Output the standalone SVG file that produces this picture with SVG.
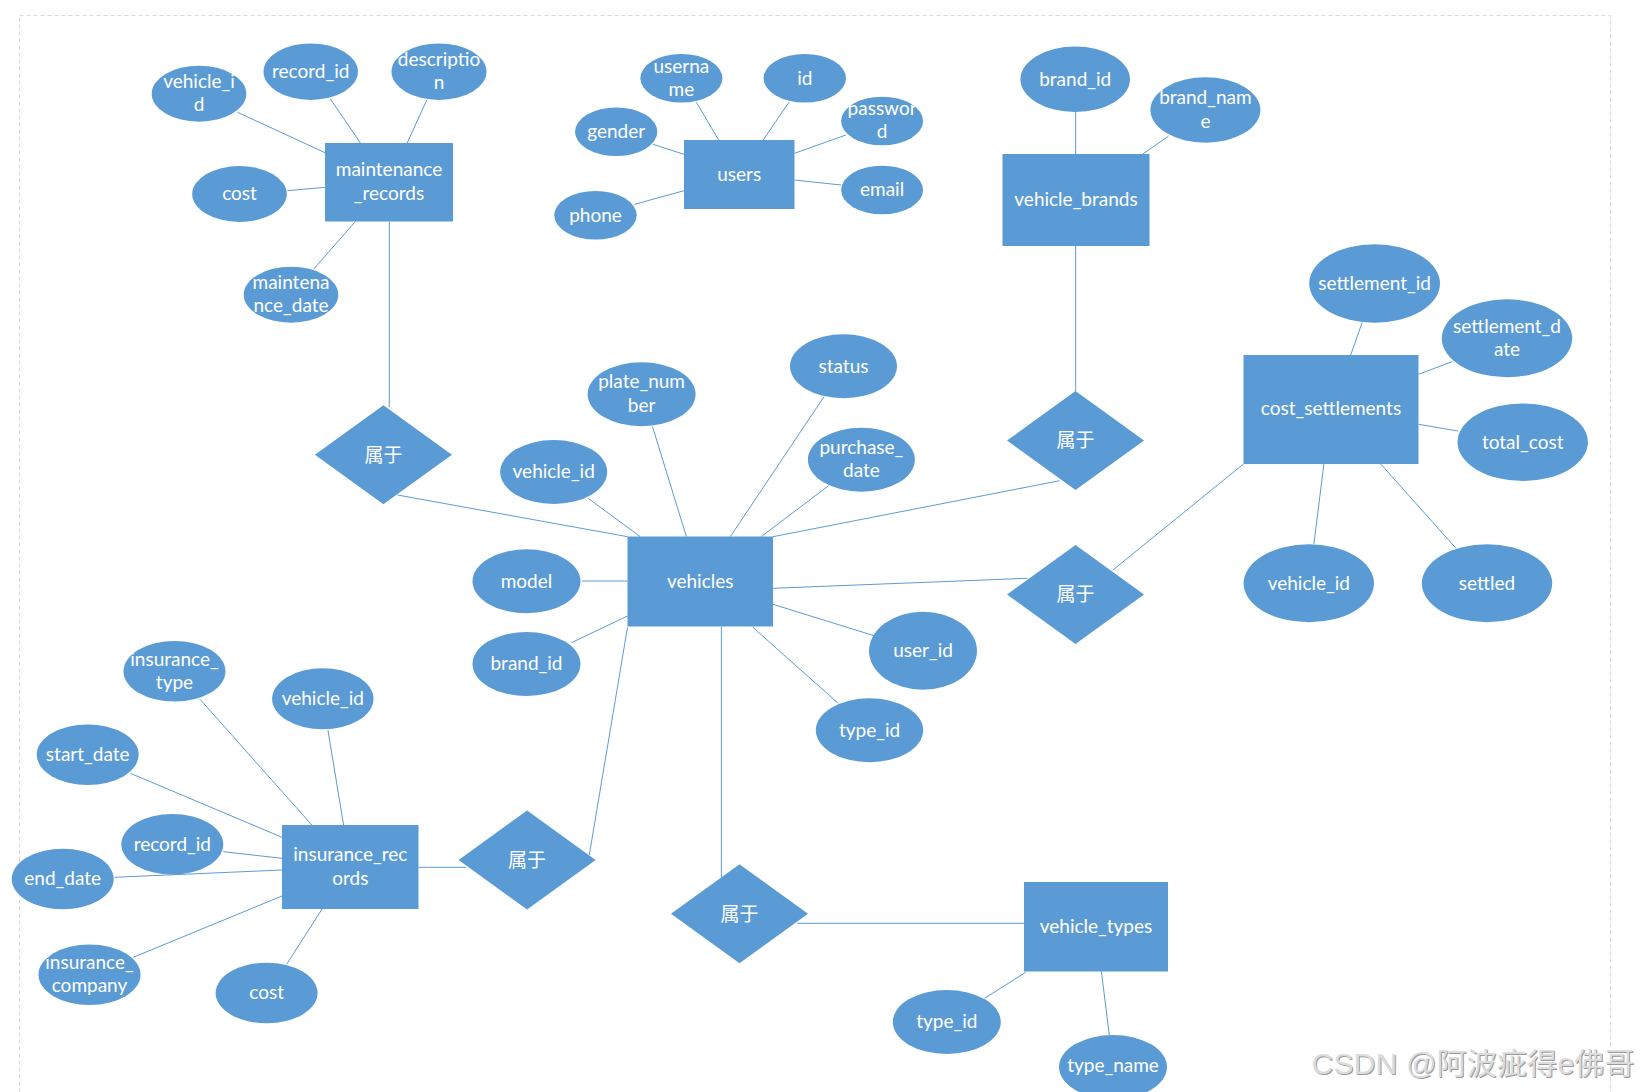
<svg xmlns="http://www.w3.org/2000/svg" width="1641" height="1092" viewBox="0 0 1641 1092">
<style>
.frame{fill:none;stroke:#d9d9d9;stroke-width:1;stroke-dasharray:4 3}
.ent,.attr,.rel{fill:#5b9bd5;stroke:none}
.edge line{stroke:#5b9bd5;stroke-width:1}
text{font-family:Lato,"Noto Sans CJK SC",sans-serif;font-size:19px;fill:#ffffff;text-anchor:middle}
.cn{font-family:"Noto Sans CJK SC",sans-serif;font-size:19px}
.wm{font-family:"Liberation Sans","Noto Sans CJK SC",sans-serif;font-size:30px;text-anchor:start}
</style>
<rect width="1641" height="1092" fill="#ffffff"/>
<rect class="frame" x="19.5" y="15.5" width="1591" height="1100"/>

<g id="connectors" class="edge">
<line x1="237.5" y1="112.3" x2="325" y2="152.7"/>
<line x1="330.4" y1="99" x2="360.7" y2="143.3"/>
<line x1="426.8" y1="100" x2="407" y2="143.3"/>
<line x1="287.5" y1="190.7" x2="325" y2="187.3"/>
<line x1="313.6" y1="269.3" x2="354.6" y2="222.3"/>
<line x1="389.3" y1="221.5" x2="389.3" y2="407.3"/>
<line x1="397.5" y1="495" x2="627.5" y2="536.7"/>
<line x1="696.4" y1="102.3" x2="718.6" y2="140"/>
<line x1="788.9" y1="102.3" x2="763.2" y2="140"/>
<line x1="652.9" y1="144.3" x2="684" y2="154.3"/>
<line x1="846" y1="135" x2="794.5" y2="153.3"/>
<line x1="841" y1="185" x2="794.5" y2="180"/>
<line x1="634.6" y1="204.3" x2="684" y2="190.7"/>
<line x1="1075.7" y1="112" x2="1075.7" y2="154"/>
<line x1="1168.6" y1="136" x2="1142.9" y2="154"/>
<line x1="1075.7" y1="246" x2="1075.7" y2="391"/>
<line x1="772.9" y1="536.7" x2="1059.6" y2="480.7"/>
<line x1="1362.1" y1="322.7" x2="1350.7" y2="355"/>
<line x1="1452.1" y1="361.7" x2="1418.5" y2="374.3"/>
<line x1="1457.9" y1="431" x2="1418.5" y2="424.3"/>
<line x1="1323.9" y1="464" x2="1313.9" y2="544"/>
<line x1="1380.7" y1="464" x2="1456" y2="548.3"/>
<line x1="1243.5" y1="464" x2="1112.9" y2="570"/>
<line x1="773" y1="588.3" x2="1027.5" y2="578.3"/>
<line x1="588.2" y1="498.3" x2="640" y2="536.5"/>
<line x1="652.5" y1="426.7" x2="686.4" y2="536.5"/>
<line x1="824" y1="396.7" x2="730.4" y2="536.5"/>
<line x1="828.6" y1="485.7" x2="761.4" y2="536.5"/>
<line x1="582" y1="581" x2="627.5" y2="581"/>
<line x1="571.4" y1="642.7" x2="627.5" y2="616"/>
<line x1="773" y1="604.3" x2="874" y2="635.7"/>
<line x1="752.5" y1="627" x2="838.2" y2="703.3"/>
<line x1="721.4" y1="627" x2="721.4" y2="877.3"/>
<line x1="627.5" y1="627.3" x2="589.3" y2="855"/>
<line x1="418.5" y1="867.3" x2="466" y2="867.3"/>
<line x1="200" y1="699.3" x2="311.8" y2="825"/>
<line x1="327.9" y1="730" x2="343.6" y2="825"/>
<line x1="130.4" y1="773.3" x2="282" y2="837.3"/>
<line x1="223.2" y1="851.7" x2="282" y2="858.3"/>
<line x1="114.3" y1="877.3" x2="282" y2="870"/>
<line x1="133.2" y1="957.3" x2="282" y2="896"/>
<line x1="286.8" y1="964" x2="322.1" y2="909"/>
<line x1="797.1" y1="923.3" x2="1024" y2="923.3"/>
<line x1="1025.7" y1="972.3" x2="984.6" y2="998.3"/>
<line x1="1101.4" y1="971.5" x2="1109.3" y2="1035"/>
</g>

<!-- entities -->
<g id="maintenance_records"><rect class="ent" x="325" y="143" width="128" height="78.5"/><text x="389" y="176.3">maintenance</text><text x="389" y="199.8">_records</text></g>
<g id="users"><rect class="ent" x="684" y="140" width="110.5" height="69"/><text x="739.2" y="180.5">users</text></g>
<g id="vehicle_brands"><rect class="ent" x="1002.5" y="154" width="147" height="92"/><text x="1076" y="205.5">vehicle_brands</text></g>
<g id="cost_settlements"><rect class="ent" x="1243.5" y="355" width="175" height="109"/><text x="1331" y="415">cost_settlements</text></g>
<g id="vehicles"><rect class="ent" x="627.5" y="536.5" width="145.5" height="90"/><text x="700.2" y="587.7">vehicles</text></g>
<g id="insurance_records"><rect class="ent" x="282" y="825" width="136.5" height="84"/><text x="350.3" y="861">insurance_rec</text><text x="350.3" y="885">ords</text></g>
<g id="vehicle_types"><rect class="ent" x="1024" y="882" width="144" height="89.5"/><text x="1096" y="933">vehicle_types</text></g>

<!-- relationships -->
<g id="rel_maintenance"><polygon class="rel" points="383.4,405.2 451.9,454.7 383.4,504.2 314.9,454.7"/><text class="cn" x="383.4" y="461.5">属于</text></g>
<g id="rel_brands"><polygon class="rel" points="1075.5,391.1 1144,440.6 1075.5,490.1 1007,440.6"/><text class="cn" x="1075.5" y="447.4">属于</text></g>
<g id="rel_settlements"><polygon class="rel" points="1075.5,545 1144,594.5 1075.5,644 1007,594.5"/><text class="cn" x="1075.5" y="601.3">属于</text></g>
<g id="rel_insurance"><polygon class="rel" points="527.1,810.5 595.6,860 527.1,909.5 458.6,860"/><text class="cn" x="527.1" y="866.8">属于</text></g>
<g id="rel_types"><polygon class="rel" points="739.5,864.3 808,913.8 739.5,963.3 671,913.8"/><text class="cn" x="739.5" y="920.6">属于</text></g>

<!-- maintenance attributes -->
<g id="m_vehicle_id"><ellipse class="attr" cx="199" cy="93.7" rx="47.3" ry="28"/><text x="199" y="88.3">vehicle_i</text><text x="199" y="111">d</text></g>
<g id="m_record_id"><ellipse class="attr" cx="310.7" cy="71.7" rx="47.2" ry="28.3"/><text x="310.7" y="78.3">record_id</text></g>
<g id="m_description"><ellipse class="attr" cx="439" cy="71.7" rx="47.5" ry="28.3"/><text x="439" y="66">descriptio</text><text x="439" y="89.3">n</text></g>
<g id="m_cost"><ellipse class="attr" cx="239.5" cy="194" rx="47.3" ry="28"/><text x="239.5" y="200.3">cost</text></g>
<g id="m_maintenance_date"><ellipse class="attr" cx="291" cy="294.7" rx="47.3" ry="28"/><text x="291" y="289">maintena</text><text x="291" y="312.3">nce_date</text></g>

<!-- users attributes -->
<g id="u_username"><ellipse class="attr" cx="681.4" cy="78.3" rx="41" ry="24.3"/><text x="681.4" y="72.7">userna</text><text x="681.4" y="95.7">me</text></g>
<g id="u_id"><ellipse class="attr" cx="804.8" cy="78.3" rx="41.2" ry="24.3"/><text x="804.8" y="84.5">id</text></g>
<g id="u_gender"><ellipse class="attr" cx="616.2" cy="131.7" rx="41.2" ry="24.3"/><text x="616.2" y="137.8">gender</text></g>
<g id="u_password"><ellipse class="attr" cx="882.1" cy="121" rx="41" ry="24.3"/><text x="882.1" y="115.3">passwor</text><text x="882.1" y="138.3">d</text></g>
<g id="u_email"><ellipse class="attr" cx="882.1" cy="190" rx="41" ry="24.3"/><text x="882.1" y="196.2">email</text></g>
<g id="u_phone"><ellipse class="attr" cx="595.5" cy="215.3" rx="41.2" ry="24.3"/><text x="595.5" y="221.5">phone</text></g>

<!-- brands attributes -->
<g id="b_brand_id"><ellipse class="attr" cx="1075.2" cy="79.3" rx="54.8" ry="32.7"/><text x="1075.2" y="85.7">brand_id</text></g>
<g id="b_brand_name"><ellipse class="attr" cx="1205.4" cy="110" rx="55" ry="32.7"/><text x="1205.4" y="104.3">brand_nam</text><text x="1205.4" y="127.5">e</text></g>

<!-- settlements attributes -->
<g id="s_settlement_id"><ellipse class="attr" cx="1374.6" cy="283.5" rx="65.4" ry="39.2"/><text x="1374.6" y="289.8">settlement_id</text></g>
<g id="s_settlement_date"><ellipse class="attr" cx="1507" cy="338.3" rx="65.2" ry="39"/><text x="1507" y="332.7">settlement_d</text><text x="1507" y="356">ate</text></g>
<g id="s_total_cost"><ellipse class="attr" cx="1522.7" cy="442.2" rx="65.2" ry="38.8"/><text x="1522.7" y="448.5">total_cost</text></g>
<g id="s_vehicle_id"><ellipse class="attr" cx="1308.8" cy="583.3" rx="65.2" ry="39"/><text x="1308.8" y="589.6">vehicle_id</text></g>
<g id="s_settled"><ellipse class="attr" cx="1487" cy="583.3" rx="65.2" ry="39"/><text x="1487" y="589.6">settled</text></g>

<!-- vehicles attributes -->
<g id="v_plate_number"><ellipse class="attr" cx="641.6" cy="394.2" rx="54" ry="32"/><text x="641.6" y="388.3">plate_num</text><text x="641.6" y="411.7">ber</text></g>
<g id="v_status"><ellipse class="attr" cx="843.5" cy="366.3" rx="53.5" ry="32"/><text x="843.5" y="372.5">status</text></g>
<g id="v_purchase_date"><ellipse class="attr" cx="861.4" cy="459.7" rx="53.5" ry="32"/><text x="861.4" y="454">purchase_</text><text x="861.4" y="477.3">date</text></g>
<g id="v_vehicle_id"><ellipse class="attr" cx="553.7" cy="472" rx="53.5" ry="32"/><text x="553.7" y="478.3">vehicle_id</text></g>
<g id="v_model"><ellipse class="attr" cx="526.5" cy="581.3" rx="54" ry="32"/><text x="526.5" y="587.6">model</text></g>
<g id="v_brand_id"><ellipse class="attr" cx="526.5" cy="664" rx="54" ry="32"/><text x="526.5" y="670.3">brand_id</text></g>
<g id="v_user_id"><ellipse class="attr" cx="923" cy="650.8" rx="54" ry="39"/><text x="923" y="657">user_id</text></g>
<g id="v_type_id"><ellipse class="attr" cx="869.5" cy="730.3" rx="53.7" ry="32"/><text x="869.5" y="736.6">type_id</text></g>

<!-- insurance attributes -->
<g id="i_insurance_type"><ellipse class="attr" cx="174.5" cy="671.3" rx="51" ry="30.3"/><text x="174.5" y="665.7">insurance_</text><text x="174.5" y="689">type</text></g>
<g id="i_vehicle_id"><ellipse class="attr" cx="322.8" cy="698.8" rx="50.7" ry="30.5"/><text x="322.8" y="705">vehicle_id</text></g>
<g id="i_start_date"><ellipse class="attr" cx="87.7" cy="754.7" rx="51" ry="30.3"/><text x="87.7" y="761">start_date</text></g>
<g id="i_record_id"><ellipse class="attr" cx="172.3" cy="844.3" rx="51" ry="30.3"/><text x="172.3" y="850.6">record_id</text></g>
<g id="i_end_date"><ellipse class="attr" cx="62.7" cy="879" rx="51" ry="30.3"/><text x="62.7" y="885.3">end_date</text></g>
<g id="i_insurance_company"><ellipse class="attr" cx="89.5" cy="974.7" rx="51" ry="30.3"/><text x="89.5" y="969">insurance_</text><text x="89.5" y="992.3">company</text></g>
<g id="i_cost"><ellipse class="attr" cx="266.6" cy="993" rx="51" ry="30.3"/><text x="266.6" y="999.3">cost</text></g>

<!-- types attributes -->
<g id="t_type_id"><ellipse class="attr" cx="946.8" cy="1022" rx="54" ry="32"/><text x="946.8" y="1028.3">type_id</text></g>
<g id="t_type_name"><ellipse class="attr" cx="1113" cy="1067" rx="54" ry="32"/><text x="1113" y="1072.3">type_name</text></g>

<!-- watermark -->
<text class="wm" x="1312.5" y="1075" textLength="323" fill="#9a9a9a" style="fill:#9a9a9a">CSDN @阿波疵得e佛哥</text>
<text class="wm" x="1311.5" y="1074" textLength="323" style="fill:#dcdcdc">CSDN @阿波疵得e佛哥</text>
</svg>
